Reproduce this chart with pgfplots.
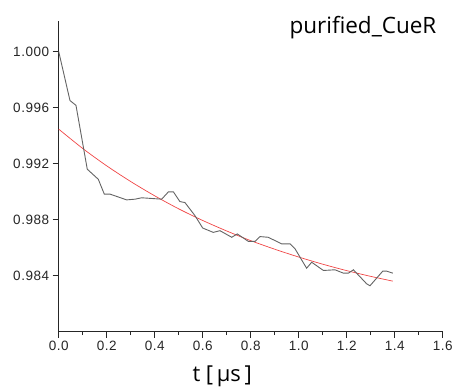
\documentclass[border=0pt]{standalone}
\usepackage{fontspec}
\setmainfont{Open Sans}
\newfontfamily\tickfont[LetterSpace=4]{Liberation Sans}
\usepackage{pgfplots}
\pgfplotsset{compat=1.18}
\definecolor{datagray}{RGB}{100,100,100}
\definecolor{fitred}{RGB}{240,70,70}
\begin{document}
\begin{tikzpicture}
\useasboundingbox (-58.7pt,-57.3pt) rectangle (395.3pt,331.7pt);
\begin{axis}[
  scale only axis, width=384pt, height=311pt,
  xmin=0, xmax=1.6, ymin=0.980, ymax=1.0022,
  axis x line=bottom, axis y line=left,
  axis line style={-, line width=0.8pt, black!85},
  xtick={0,0.2,...,1.6}, minor x tick num=1,
  ytick={0.984,0.988,0.992,0.996,1.000},
  tick align=outside,
  major tick length=6pt, minor tick length=3.5pt,
  tick style={line width=0.8pt, black!85},
  /pgf/number format/assume math mode=true,
  ticklabel style={font=\tickfont\fontsize{13.5}{15}\selectfont, text=black!85},
  x tick label style={/pgf/number format/.cd, fixed, fixed zerofill, precision=1},
  y tick label style={/pgf/number format/.cd, fixed, fixed zerofill, precision=3},
  scaled y ticks=false,
  clip=false,
]
\addplot[fitred, line width=0.7pt, smooth] coordinates {
(0,0.99446) (0.1,0.99308) (0.2,0.99184) (0.3,0.99072) (0.4,0.98970)
(0.5,0.98877) (0.6,0.98794) (0.7,0.98719) (0.8,0.98650) (0.9,0.98589)
(1.0,0.98533) (1.1,0.98482) (1.2,0.98436) (1.3,0.98395) (1.392,0.98361)
};
\addplot[datagray, line width=0.9pt] coordinates {
(0,1.000) (0.047,0.9965) (0.072,0.99616) (0.119,0.9916) (0.165,0.99088)
(0.19,0.98982) (0.214,0.98982) (0.283,0.98941) (0.318,0.98946) (0.346,0.98956)
(0.429,0.98946) (0.457,0.98998) (0.478,0.98998) (0.505,0.98929) (0.526,0.98922)
(0.568,0.98828) (0.60,0.98740) (0.644,0.98709) (0.672,0.98721) (0.721,0.98674)
(0.744,0.98698) (0.79,0.98645) (0.818,0.98645) (0.839,0.98679) (0.873,0.98674)
(0.929,0.98627) (0.964,0.98627) (0.985,0.98591) (1.033,0.98453) (1.054,0.98496)
(1.103,0.98437) (1.151,0.98442) (1.186,0.98418) (1.207,0.98418) (1.228,0.98442)
(1.283,0.98342) (1.297,0.98328) (1.35,0.98432) (1.367,0.98432) (1.392,0.98418)
};
\node[anchor=base east, inner sep=0pt, font=\fontsize{22.5}{24}\selectfont] at (rel axis cs:0.984,0.9595) {purified\_CueR};
\node[anchor=base west, inner sep=0pt, font=\fontsize{22}{24}\selectfont] at ([yshift=-50pt, xshift=-58.7pt]axis description cs:0,0) {\hspace*{192.3pt}t [\,µs\,]};
\end{axis}
\end{tikzpicture}
\end{document}
